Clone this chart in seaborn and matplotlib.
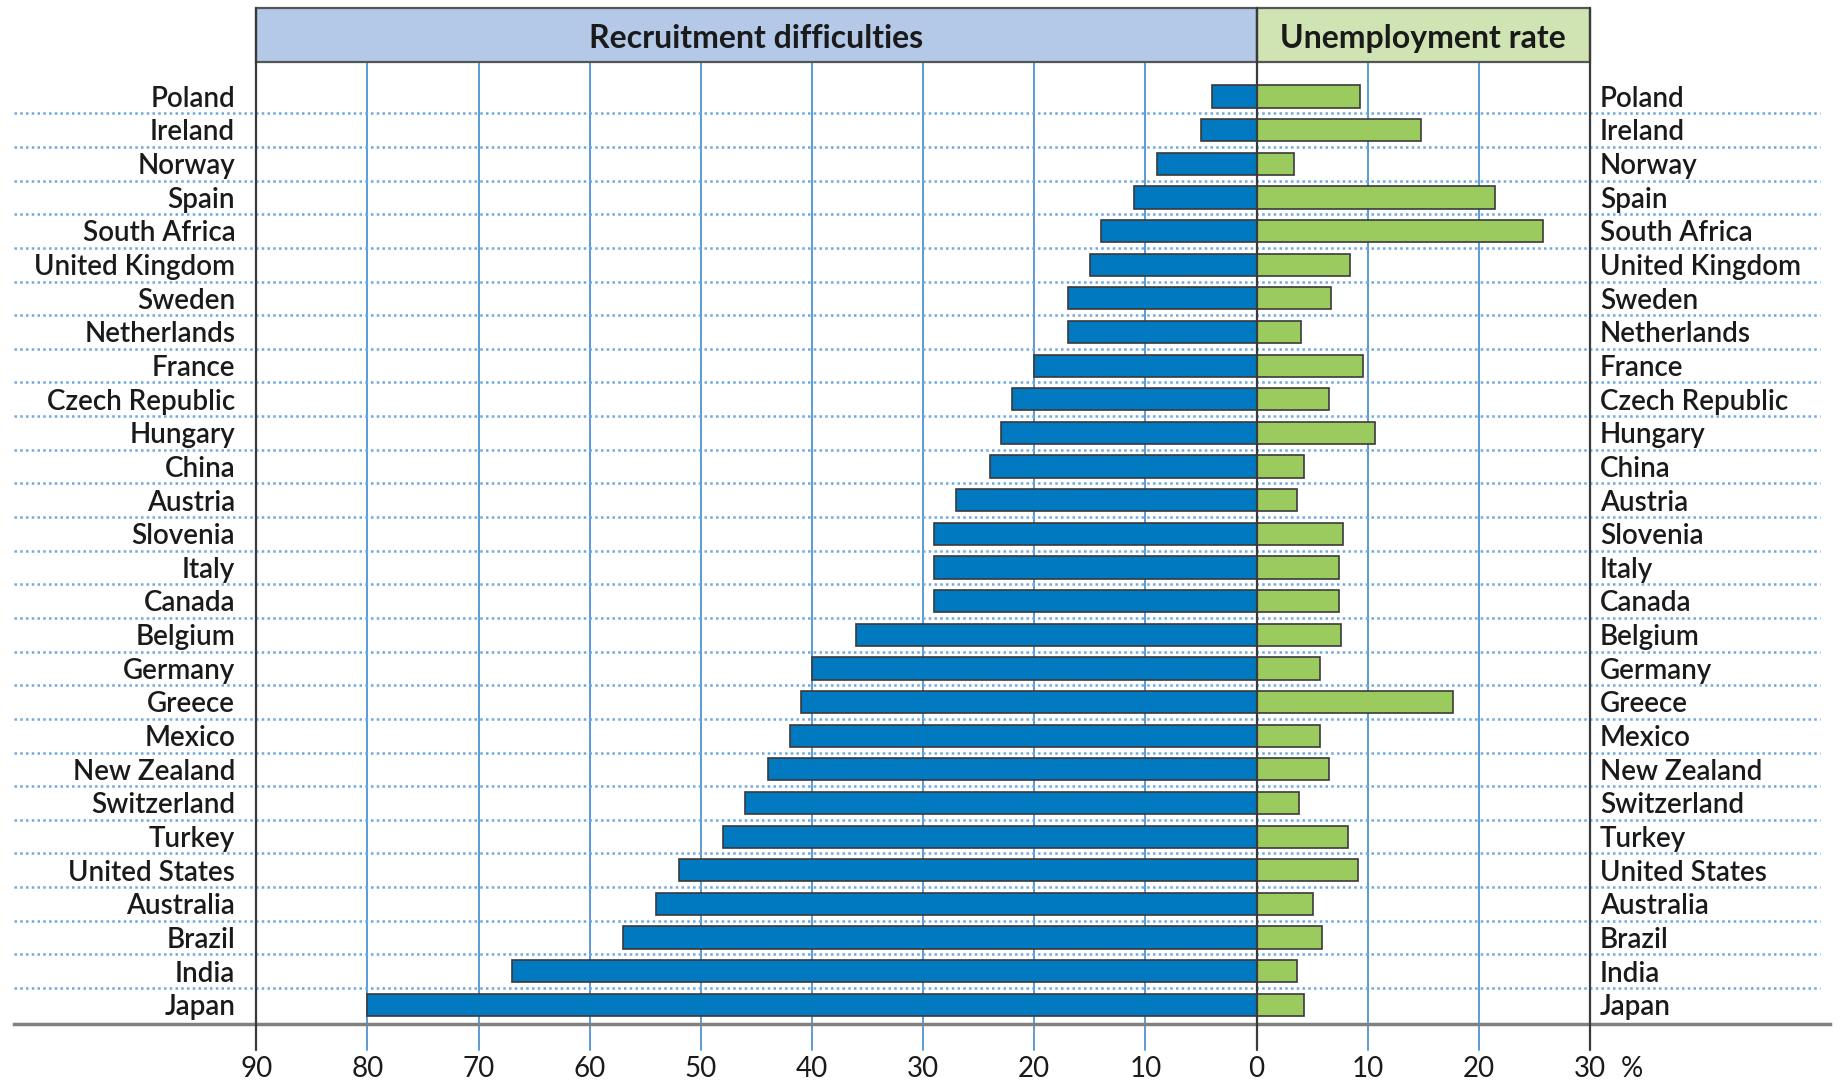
import matplotlib
matplotlib.use("Agg")
import matplotlib.pyplot as plt
import pandas as pd
import seaborn as sns

# Data
countries = ['Poland', 'Ireland', 'Norway', 'Spain', 'South Africa', 'United Kingdom',
             'Sweden', 'Netherlands', 'France', 'Czech Republic', 'Hungary', 'China',
             'Austria', 'Slovenia', 'Italy', 'Canada', 'Belgium', 'Germany', 'Greece',
             'Mexico', 'New Zealand', 'Switzerland', 'Turkey', 'United States',
             'Australia', 'Brazil', 'India', 'Japan']
recruitment = [4, 5, 9, 11, 14, 15, 17, 17, 20, 22, 23, 24, 27, 29, 29, 29, 36, 40,
               41, 42, 44, 46, 48, 52, 54, 57, 67, 80]
unemployment = [9.3, 14.8, 3.4, 21.5, 25.8, 8.4, 6.7, 4.0, 9.6, 6.5, 10.7, 4.3, 3.6,
                7.8, 7.4, 7.4, 7.6, 5.7, 17.7, 5.7, 6.5, 3.8, 8.2, 9.1, 5.1, 5.9, 3.6, 4.3]
tick_values = [-90, -80, -70, -60, -50, -40, -30, -20, -10, 0, 10, 20, 30]
tick_labels = [str(abs(v)) for v in tick_values]

df = pd.DataFrame({'country': countries,
                   'recruit': [-v for v in recruitment],
                   'unemp': unemployment})

sns.set_style('white')
plt.rcParams['font.family'] = ['Lato', 'DejaVu Sans']

BLUE = '#0079C1'
GREEN = '#9BCB5F'
GRID = '#5B9BD5'
DARK = '#3a3a3a'

fig = plt.figure(figsize=(18.43, 10.85), dpi=100)
ax = fig.add_axes([14 / 1843, 1 - 1024 / 1085, (1830 - 14) / 1843, (1024 - 8) / 1085])

x_left, x_right = -111.8, 51.6
y_bottom, y_top = 27.57, -2.63
head_bottom = -1.02
line_end = 28.34

# vertical grid lines (blue) and frame lines (dark)
for v in tick_values:
    if v in (-90, 0, 30):
        ax.plot([v, v], [y_top, line_end], color=DARK, lw=1.6, clip_on=False, zorder=4)
    else:
        ax.plot([v, v], [head_bottom, line_end], color=GRID, lw=1.4, clip_on=False, zorder=1)

# dotted row separators
for i in range(len(countries) - 1):
    ax.hlines(i + 0.5, x_left, 50.7, color='#6FA8DC', lw=1.8,
              linestyles=(0, (1, 1.3)), zorder=1)

sns.barplot(data=df, x='recruit', y='country', orient='h', color=BLUE, width=0.66,
            edgecolor=DARK, linewidth=1.2, saturation=1, ax=ax, zorder=3)
sns.barplot(data=df, x='unemp', y='country', orient='h', color=GREEN, width=0.66,
            edgecolor=DARK, linewidth=1.2, saturation=1, ax=ax, zorder=3)

# header panels
ax.add_patch(plt.Rectangle((-90, y_top), 90, head_bottom - y_top, facecolor='#B4C9E7',
                           edgecolor='#555555', lw=1.6, zorder=2, clip_on=False))
ax.add_patch(plt.Rectangle((0, y_top), 30, head_bottom - y_top, facecolor='#CFE4B2',
                           edgecolor='#555555', lw=1.6, zorder=2, clip_on=False))
head_mid = (y_top + head_bottom) / 2 + 0.1
ax.text(-45, head_mid, 'Recruitment difficulties', ha='center', va='center',
        fontsize=23, fontweight='bold', color='#1a1a1a', zorder=5)
ax.text(15, head_mid, 'Unemployment rate', ha='center', va='center',
        fontsize=23, fontweight='bold', color='#1a1a1a', zorder=5)

# country labels on both sides
for i, c in enumerate(countries):
    ax.text(-91.9, i + 0.07, c, ha='right', va='center', fontsize=20,
            fontweight='semibold', color='#1a1a1a')
    ax.text(30.9, i + 0.07, c, ha='left', va='center', fontsize=20,
            fontweight='semibold', color='#1a1a1a')

ax.set_xlim(x_left, x_right)
ax.set_ylim(y_bottom, y_top)
ax.set_yticks([])
ax.set_xticks(tick_values)
ax.set_xticklabels(tick_labels, fontsize=20, color='#1a1a1a')
ax.tick_params(axis='x', length=0, pad=23)
ax.text(33.8, 28.9, '%', ha='center', va='center', fontsize=20, color='#1a1a1a',
        clip_on=False)
ax.set_xlabel('')
ax.set_ylabel('')

for side in ['top', 'left', 'right']:
    ax.spines[side].set_visible(False)
ax.spines['bottom'].set_color('#808080')
ax.spines['bottom'].set_linewidth(2.5)

fig.savefig('out.png', dpi=100)
